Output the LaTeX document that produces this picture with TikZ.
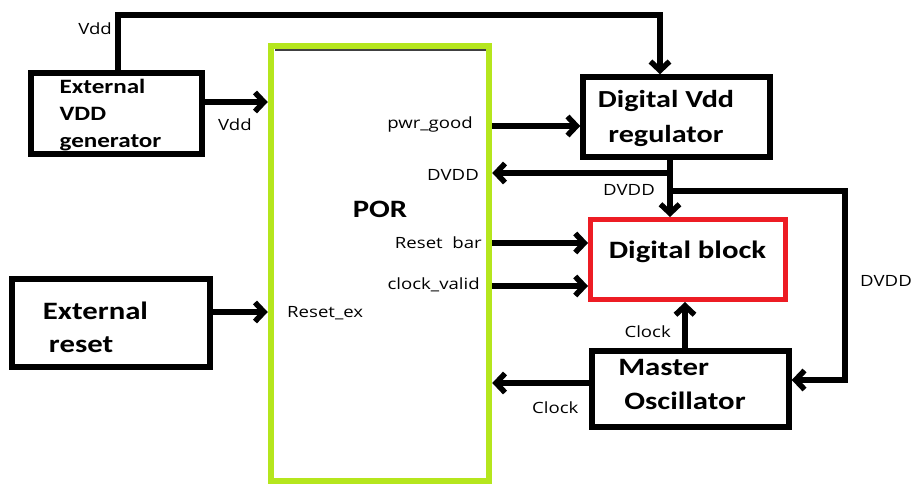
\documentclass[tikz,border=0pt]{standalone}
\usepackage{fontspec}
\usetikzlibrary{arrows.meta}
\newfontfamily\boxfont[FakeStretch=1.23]{Carlito}
\newfontfamily\lblfont[FakeStretch=1.2]{Open Sans}
\definecolor{porgreen}{HTML}{B5E61D}
\definecolor{blkred}{HTML}{ED1C24}
\begin{document}
\begin{tikzpicture}[x=1pt,y=-1pt,
  box/.style={draw=black,line width=5.5pt,inner sep=0pt,fill=none},
  wire/.style={line width=5.5pt},
  conn/.style={line width=5.5pt,-{Straight Barb[length=9pt,width=19pt]}},
  lbl/.style={font=\lblfont\fontsize{15.5}{18}\selectfont,inner sep=0pt},
  title/.style={font=\boxfont\bfseries\fontsize{25}{33}\selectfont,inner sep=0pt}]
\fill[white] (0,0) rectangle (914,485);
\useasboundingbox (0,0) rectangle (914,485);

% POR block
\node[draw=porgreen,line width=6.5pt,inner sep=0pt,minimum width=218pt,minimum height=435pt] (por) at (380,263.5) {};
\draw[line width=1.2pt,black!75] (275,50) -- (486,50);

% boxes
\node[box,minimum width=171pt,minimum height=81pt] (extvdd) at (116.5,113.5) {};
\node[box,minimum width=198pt,minimum height=88pt] (extrst) at (111,323) {};
\node[box,minimum width=187pt,minimum height=80pt] (reg) at (676.5,117) {};
\node[box,draw=blkred,line width=5pt,minimum width=195pt,minimum height=80pt] (dig) at (688,259.5) {};
\node[box,minimum width=197pt,minimum height=76pt] (osc) at (690.5,389) {};

% box texts
\node[title,font=\boxfont\bfseries\fontsize{20.4}{27}\selectfont,align=left] (extvddtxt) at (110.5,115) {External\\VDD\\generator};
\node[title,align=left] (extrsttxt) at (95.5,327) {External\\\hspace*{6pt}reset};
\node[title,font=\boxfont\bfseries\fontsize{24.5}{35}\selectfont,align=center] (regtxt) at (666,118.5) {Digital Vdd\\regulator};
\node[title,anchor=base] (digtxt) at (687.5,258) {Digital block};
\node[title,anchor=base] (portxt) at (380,217) {POR};
\node[title,font=\boxfont\bfseries\fontsize{25}{34}\selectfont,align=left] (osctxt) at (682,384) {Master\\\hspace*{6pt}Oscillator};

% levels
\coordinate (yvdd) at (0,102);
\coordinate (yrst) at (0,312);
\coordinate (ypg) at (0,126);
\coordinate (yrb) at (0,243);
\coordinate (ycv) at (0,286);
\coordinate (yclk) at (0,383);
\coordinate (yosc) at (0,380);
\coordinate (xv) at (118,0);
\coordinate (xr) at (660,0);
\coordinate (xc) at (685,0);
\coordinate (t1) at (118,15);
\coordinate (t2) at (660,15);
\coordinate (j1) at (670,173);
\coordinate (j2) at (670,191);
\coordinate (r1) at (845,191);
\coordinate (r2) at (845,380);

% connectors
\draw[conn] (extvdd.north -| xv) -- (t1) -- (t2) -- (reg.north -| xr);
\draw[conn] (extvdd.east |- yvdd) -- (por.west |- yvdd);
\draw[conn] (extrst.east |- yrst) -- (por.west |- yrst);
\draw[conn] (por.east |- ypg) -- (reg.west |- ypg);
\draw[conn] (reg.south -| j1) -- (dig.north -| j1);
\draw[conn] (j1) -- (por.east |- j1);
\draw[conn] (j2) -- (r1) -- (r2) -- (osc.east |- yosc);
\draw[conn] (por.east |- yrb) -- (dig.west |- yrb);
\draw[conn] (por.east |- ycv) -- (dig.west |- ycv);
\draw[conn] (osc.north -| xc) -- (dig.south -| xc);
\draw[conn] (osc.west |- yclk) -- (por.east |- yclk);

% labels
\node[lbl,anchor=base east] (l1) at (112,34) {Vdd};
\node[lbl,anchor=base west] (l2) at (218,130) {Vdd};
\node[lbl,anchor=base east] (l3) at (473,128) {pwr\_good};
\node[lbl,anchor=base east] (l4) at (479,180) {DVDD};
\node[lbl,anchor=base east] (l5) at (655,195) {DVDD};
\node[lbl,anchor=base east] (l6) at (912,286) {DVDD};
\node[lbl,anchor=base east] (l7) at (482,248) {Reset\ \ bar};
\node[lbl,anchor=base east] (l8) at (480,289) {clock\_valid};
\node[lbl,anchor=base west] (l9) at (287,317) {Reset\_ex};
\node[lbl,anchor=base east] (l10) at (671,337) {Clock};
\node[lbl,anchor=base west] (l11) at (532,413) {Clock};
\end{tikzpicture}
\end{document}
